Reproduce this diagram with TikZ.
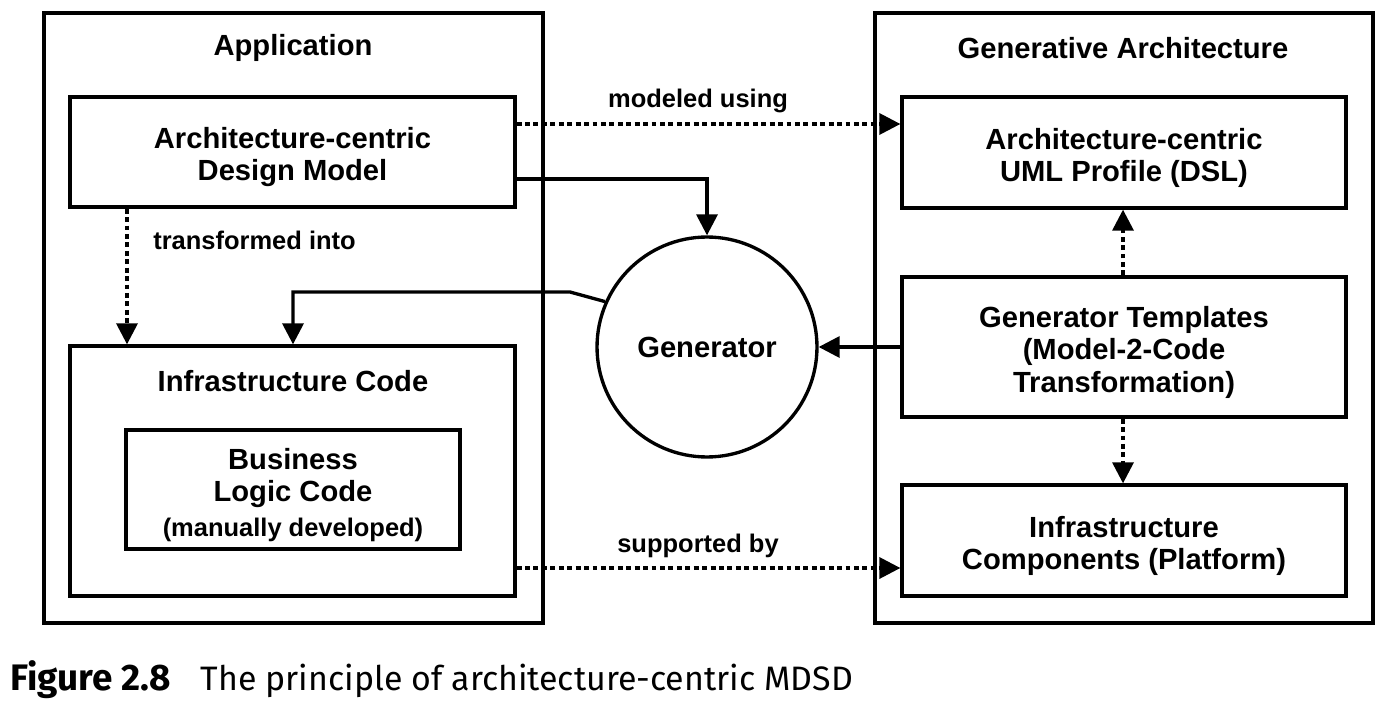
\documentclass[tikz,border=0pt]{standalone}
\usepackage{fontspec}
\setmainfont{Liberation Sans}
\newfontfamily\capfont{Fira Sans}
\usetikzlibrary{arrows.meta}

\newcommand{\diafont}{\fontsize{16.6}{18.5}\selectfont\bfseries}
\newcommand{\lblfont}{\fontsize{14.5}{17}\selectfont\bfseries}
\newcommand{\topgap}{\rule{0pt}{18pt}}

\tikzset{
  frame/.style={draw, line width=1.9pt, inner sep=0pt},
  txt/.style={font=\diafont, align=center},
  lbl/.style={font=\lblfont, inner sep=0pt},
  conn/.style={line width=1.9pt, -{Triangle[length=12pt,width=12pt]}},
  dashconn/.style={conn, dash pattern=on 2.8pt off 2pt}
}

\begin{document}
\begin{tikzpicture}[x=0.02cm, y=-0.02cm]
\useasboundingbox (0,0) rectangle (1392,716);

% left side: the application
\node[frame, minimum width=9.98cm, minimum height=12.2cm] (app) at (293.5,318) {};
\node[txt] (apptitle) at (293,48) {Application};
\node[frame, txt, minimum width=8.9cm, minimum height=2.2cm] (design) at (292.5,152) {\topgap Architecture-centric\\Design Model};
\node[frame, minimum width=8.9cm, minimum height=5cm] (infra) at (292.5,471) {};
\node[txt] (infratitle) at (293,381) {Infrastructure Code};
\node[frame, txt, minimum width=6.68cm, minimum height=2.38cm] (logic) at (293,489.5) {\topgap Business\\Logic Code\\[1pt]{\lblfont (manually developed)}};

% right side: the generative architecture
\node[frame, minimum width=9.96cm, minimum height=12.2cm] (genarch) at (1124,318) {};
\node[txt] (gentitle) at (1123,48) {Generative Architecture};
\node[frame, txt, minimum width=8.88cm, minimum height=2.22cm] (profile) at (1124,152.5) {\topgap Architecture-centric\\UML Profile (DSL)};
\node[frame, txt, minimum width=8.88cm, minimum height=2.8cm] (templates) at (1124,347) {\topgap Generator Templates\\(Model-2-Code\\Transformation)};
\node[frame, txt, minimum width=8.88cm, minimum height=2.22cm] (components) at (1124,540.5) {\topgap Infrastructure\\Components (Platform)};

% the generator
\node[frame, circle, txt, minimum size=4.4cm] (generator) at (707,347) {Generator};
\coordinate (bend) at (570,292);

% connectors
\draw[dashconn] (design.east |- 0,124) -- (profile.west |- 0,124);
\node[lbl] (modeled) at (698,101) {modeled using};
\draw[conn] (design.east |- 0,179) -| (generator.north);
\draw[dashconn] (design.south -| 127,0) -- (infra.north -| 127,0);
\node[lbl, anchor=west] (transformed) at (153,240) {transformed into};
\draw[conn] (generator.156) -- (bend) -| (infra.north -| 293,0);
\draw[conn] (templates.west) -- (generator.east);
\draw[dashconn] (templates.north -| 1123,0) -- (profile.south -| 1123,0);
\draw[dashconn] (templates.south -| 1123,0) -- (components.north -| 1123,0);
\draw[dashconn] (infra.east |- 0,568) -- (components.west |- 0,568);
\node[lbl] (supported) at (698,546) {supported by};

% caption
\node[anchor=base west, inner sep=0pt, font=\capfont\fontsize{19.3}{22}\selectfont] (caption) at (10,690)
  {{\fontsize{21}{22}\selectfont\bfseries Figure 2.8}\hspace{17pt}The principle of architecture-centric MDSD};
\end{tikzpicture}
\end{document}
